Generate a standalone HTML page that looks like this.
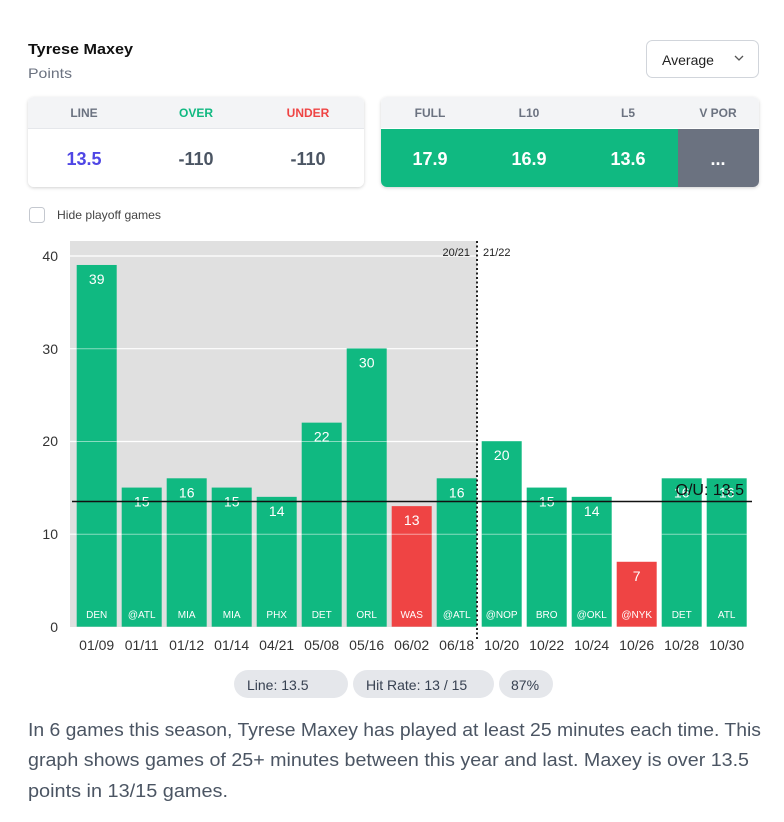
<!DOCTYPE html>
<html><head><meta charset="utf-8"><style>
body{margin:0;background:#fff;width:784px;height:817px;overflow:hidden;font-family:"Liberation Sans",sans-serif}
</style></head><body>
<svg width="784" height="817" xmlns="http://www.w3.org/2000/svg" font-family="Liberation Sans, sans-serif">
<text x="28" y="54" font-size="15" font-weight="bold" fill="#111" textLength="105" lengthAdjust="spacingAndGlyphs">Tyrese Maxey</text>
<text x="28" y="78" font-size="14" fill="#6b7280" textLength="44" lengthAdjust="spacingAndGlyphs">Points</text>
<rect x="646.5" y="40.5" width="112" height="37" rx="6" fill="#fff" stroke="#d1d5db"/>
<text x="662" y="65" font-size="14" fill="#222" textLength="52" lengthAdjust="spacingAndGlyphs">Average</text>
<path d="M735 56 l4 4 l4 -4" fill="none" stroke="#555" stroke-width="1.3"/>
<defs><filter id="sh" x="-5%" y="-10%" width="110%" height="130%"><feDropShadow dx="0" dy="1" stdDeviation="1.5" flood-opacity="0.18"/></filter></defs>
<rect x="28" y="97" width="336" height="90" rx="6" fill="#fff" filter="url(#sh)"/>
<path d="M28 128 V103 a6 6 0 0 1 6 -6 H358 a6 6 0 0 1 6 6 V128 Z" fill="#f3f4f6"/>
<line x1="28" y1="128.5" x2="364" y2="128.5" stroke="#e5e7eb"/>
<g font-size="12" font-weight="bold" text-anchor="middle">
<text x="84" y="117" fill="#6b7280">LINE</text>
<text x="196" y="117" fill="#10b981">OVER</text>
<text x="308" y="117" fill="#ef4444">UNDER</text>
</g>
<g font-size="18" font-weight="bold" text-anchor="middle">
<text x="84" y="165" fill="#4f46e5">13.5</text>
<text x="196" y="165" fill="#4b5563">-110</text>
<text x="308" y="165" fill="#4b5563">-110</text>
</g>
<rect x="381" y="97" width="378" height="90" rx="6" fill="#fff" filter="url(#sh)"/>
<path d="M381 128 V103 a6 6 0 0 1 6 -6 H753 a6 6 0 0 1 6 6 V128 Z" fill="#f3f4f6"/>
<path d="M381 129 H678 V187 H387 a6 6 0 0 1 -6 -6 Z" fill="#10b981"/>
<path d="M678 129 H759 V181 a6 6 0 0 1 -6 6 H678 Z" fill="#6b7280"/>
<g font-size="12" font-weight="bold" text-anchor="middle" fill="#6b7280">
<text x="430" y="117">FULL</text><text x="529" y="117">L10</text><text x="628" y="117">L5</text><text x="718" y="117">V POR</text>
</g>
<g font-size="18" font-weight="bold" text-anchor="middle" fill="#fff">
<text x="430" y="165">17.9</text><text x="529" y="165">16.9</text><text x="628" y="165">13.6</text><text x="718" y="165">...</text>
</g>
<rect x="29.5" y="207.5" width="15" height="15" rx="3" fill="#fff" stroke="#c4c8cf"/>
<text x="57" y="219" font-size="12" fill="#444" textLength="104" lengthAdjust="spacingAndGlyphs">Hide playoff games</text>
<rect x="70" y="241" width="407" height="386" fill="#e0e0e0"/>
<g stroke="#fff" stroke-width="1.2">
<line x1="70" y1="256" x2="751" y2="256"/><line x1="70" y1="348.7" x2="751" y2="348.7"/>
<line x1="70" y1="441.5" x2="751" y2="441.5"/><line x1="70" y1="534.2" x2="751" y2="534.2"/>
</g>
<g font-size="14" fill="#333" text-anchor="end">
<text x="58" y="632">0</text><text x="58" y="539">10</text><text x="58" y="446">20</text><text x="58" y="354">30</text><text x="58" y="261">40</text>
</g>
<g id="bars"></g>
<line x1="477" y1="241" x2="477" y2="640" stroke="#222" stroke-width="2" stroke-dasharray="2,2.5"/>
<text x="470" y="256" font-size="11" fill="#222" text-anchor="end">20/21</text>
<text x="483" y="256" font-size="11" fill="#222">21/22</text>
<line x1="72" y1="501.5" x2="752" y2="501.5" stroke="#111" stroke-width="1.4"/>
<text x="744" y="495" font-size="16" fill="#111" text-anchor="end">O/U: 13.5</text>
<rect x="234" y="670" width="114" height="28" rx="14" fill="#e5e7eb"/>
<text x="247" y="690" font-size="14" fill="#374151">Line: 13.5</text>
<rect x="353" y="670" width="141" height="28" rx="14" fill="#e5e7eb"/>
<text x="366" y="690" font-size="14" fill="#374151">Hit Rate: 13 / 15</text>
<rect x="499" y="670" width="54" height="28" rx="14" fill="#e5e7eb"/>
<text x="511" y="690" font-size="14" fill="#374151">87%</text>
<g font-size="18" fill="#4b5563">
<text x="28" y="736" textLength="733" lengthAdjust="spacingAndGlyphs">In 6 games this season, Tyrese Maxey has played at least 25 minutes each time. This</text>
<text x="28" y="766" textLength="721" lengthAdjust="spacingAndGlyphs">graph shows games of 25+ minutes between this year and last. Maxey is over 13.5</text>
<text x="28" y="797" textLength="200" lengthAdjust="spacingAndGlyphs">points in 13/15 games.</text>
</g>
</svg>
<script>
var v=[39,15,16,15,14,22,30,13,16,20,15,14,7,16,16];
var t=["DEN","@ATL","MIA","MIA","PHX","DET","ORL","WAS","@ATL","@NOP","BRO","@OKL","@NYK","DET","ATL"];
var d=["01/09","01/11","01/12","01/14","04/21","05/08","05/16","06/02","06/18","10/20","10/22","10/24","10/26","10/28","10/30"];
var g=document.getElementById("bars"),h="";
for(var i=0;i<15;i++){var x=76.7+45*i,y=626.7-v[i]*9.275,c=(v[i]<13.5)?"#ef4444":"#10b981",cx=x+20;
h+='<rect x="'+x+'" y="'+y+'" width="40" height="'+(626.7-y)+'" fill="'+c+'"/>';
h+='<line x1="'+x+'" x2="'+(x+40)+'" y1="534.2" y2="534.2" stroke="#fff" stroke-opacity="0.5"/>';
if(v[i]>20)h+='<line x1="'+x+'" x2="'+(x+40)+'" y1="441.5" y2="441.5" stroke="#fff" stroke-opacity="0.5"/>';
if(v[i]>30)h+='<line x1="'+x+'" x2="'+(x+40)+'" y1="348.7" y2="348.7" stroke="#fff" stroke-opacity="0.5"/>';
h+='<text x="'+cx+'" y="'+(y+19)+'" font-size="14" fill="#fff" text-anchor="middle">'+v[i]+'</text>';
h+='<text x="'+cx+'" y="618" font-size="10" fill="#fff" text-anchor="middle">'+t[i]+'</text>';
h+='<text x="'+cx+'" y="650" font-size="14" fill="#333" text-anchor="middle">'+d[i]+'</text>';}
g.innerHTML=h;
</script>
</body></html>
